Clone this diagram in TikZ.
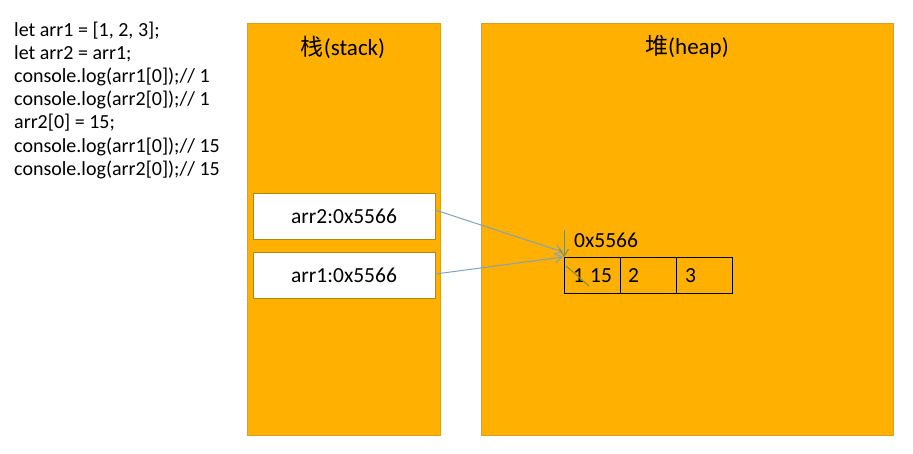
\documentclass[tikz,border=0pt]{standalone}
\usepackage{fontspec}
\setmainfont{Carlito}
\newfontfamily\cjk{Noto Sans CJK SC}
\usetikzlibrary{arrows.meta}
\definecolor{gold}{HTML}{FFB000}
\definecolor{goldedge}{HTML}{D9A020}
\definecolor{boxedge}{HTML}{B08A10}
\definecolor{arrowblue}{HTML}{7FA3BF}
\definecolor{olive}{HTML}{8A8A40}
\begin{document}
\begin{tikzpicture}[x=1pt,y=-1pt,
  region/.style={draw=goldedge,fill=gold,line width=0.6pt},
  varbox/.style={draw=boxedge,fill=white,line width=0.8pt,minimum width=182pt,minimum height=46pt,inner sep=0pt,font=\fontsize{21.5}{24}\selectfont},
  cell/.style={draw=black,line width=0.6pt,minimum width=56pt,minimum height=36pt,inner sep=0pt},
  code/.style={anchor=west,inner sep=0pt,font=\fontsize{20}{22}\selectfont},
  celltxt/.style={anchor=west,inner sep=0pt,font=\fontsize{21.5}{24}\selectfont},
  ptr/.style={draw=arrowblue,line width=1pt,-{Straight Barb[length=7pt,width=9pt]}},
  ann/.style={draw=olive,line width=1pt}
]
\useasboundingbox (0,0) rectangle (913,453);
% code
\node[code] (c1) at (14,31) {let arr1 = [1, 2, 3];};
\node[code] (c2) at (14,54) {let arr2 = arr1;};
\node[code] (c3) at (14,77) {console.log(arr1[0]);// 1};
\node[code] (c4) at (14,100) {console.log(arr2[0]);// 1};
\node[code] (c5) at (14,123) {arr2[0] = 15;};
\node[code] (c6) at (14,147) {console.log(arr1[0]);// 15};
\node[code] (c7) at (14,170) {console.log(arr2[0]);// 15};
% regions
\path[region] (247,23) rectangle (440,435);
\path[region] (481,23) rectangle (893,435);
\node[font=\fontsize{23}{26}\selectfont] (st) at (343,47) {{\cjk 栈}(stack)};
\node[font=\fontsize{23}{26}\selectfont] (hp) at (687,47) {{\cjk 堆}(heap)};
% stack vars
\node[varbox] (a2) at (344,216) {arr2:0x5566};
\node[varbox] (a1) at (344,275) {arr1:0x5566};
% heap array
\node[cell] (h1) at (592,275) {};
\node[cell] (h2) at (648,275) {};
\node[cell] (h3) at (704,275) {};
\node[celltxt] (t1) at (573,276) {1\hspace{6pt}15};
\node[celltxt] (t2) at (628,276) {2};
\node[celltxt] (t3) at (685,276) {3};
\node[celltxt] (addr) at (574,240) {0x5566};
\coordinate (tgt2) at (563,252);
\coordinate (tgt1) at (563,257);
\coordinate (vtop) at (564,230);
\coordinate (vbot) at (564,257);
\coordinate (sA) at (566,266);
\coordinate (sB) at (589,286);
\draw[ptr] (a2.east |- 0,210) -- (tgt2);
\draw[ptr] (a1.east |- 0,274) -- (tgt1);
\draw[ann,-{Straight Barb[length=7pt,width=9pt]}] (vtop) -- (vbot);
\draw[ann] (sA) -- (sB);
\end{tikzpicture}
\end{document}
